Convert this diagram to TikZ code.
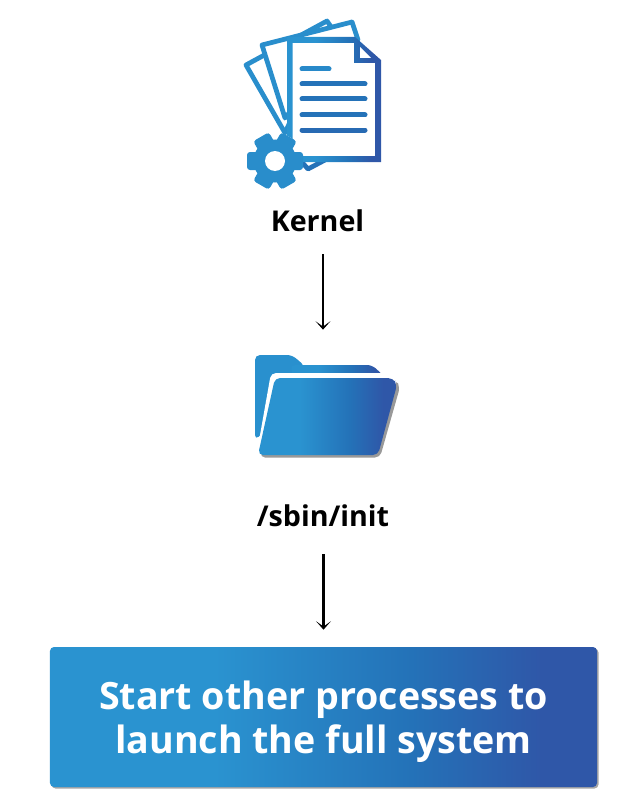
\documentclass[tikz,border=0pt]{standalone}
\usepackage{fontspec}
\usepackage{xcolor}
\usetikzlibrary{positioning, arrows.meta, shadows}
\setmainfont{Open Sans}

\definecolor{band_light}{HTML}{2A93D0}
\definecolor{band_mid}{HTML}{2472B8}
\definecolor{band_dark}{HTML}{2F57A8}
\pgfdeclarehorizontalshading{blue_band}{100bp}{
    color(0bp)=(band_light); color(40bp)=(band_light);
    color(58bp)=(band_mid); color(70bp)=(band_dark); color(100bp)=(band_dark)}

\begin{document}
\begin{tikzpicture}[
                x=0.2mm, y=-0.2mm,
                flow_arrow/.style={-{Stealth[length=1.7mm, width=3mm, inset=1.1mm]}, line width=0.45mm, black},
                icon_label/.style={font=\fontsize{16.3}{19}\selectfont\bfseries, text=black, inner sep=0pt},
                launch_box/.style={rectangle, rounded corners=0.8mm, shading=blue_band,
                    minimum width=109.4mm, minimum height=28mm, inner sep=0pt,
                    drop shadow={shadow xshift=0.3mm, shadow yshift=-0.3mm, fill=black!35, opacity=1}},
                launch_text/.style={text=white, align=center, inner sep=0pt,
                    font=\fontsize{21.4}{25}\selectfont\bfseries},
                page_line/.style={line width=0.95mm, line join=round, draw=band_light!85!band_mid, fill=white},
                text_line/.style={line width=1mm, line cap=round}
            ]
                \useasboundingbox (0,0) rectangle (627,805);

                % Back pages of the document stack
                \draw[page_line] (285,133) -- (246,65) -- (327,21) -- (340,40) -- (300,100) -- cycle;
                \draw[page_line] (285,118) -- (262,45) -- (352,22) -- (358,40) -- (300,100) -- cycle;
                \draw[page_line, draw=band_mid] (300,160) -- (308,169) -- (325,160);

                % Front page
                \fill[white] (288,38) -- (355,38) -- (380,61) -- (380,160) -- (288,160) -- cycle;
                \shade[shading=blue_band, even odd rule]
                    (287,37) -- (355,37) -- (381,60) -- (381,162) -- (287,162) -- cycle
                    (292.5,43) -- (354,43) -- (354,63) -- (375,63) -- (375,156) -- (292.5,156) -- cycle;
                \fill[white] (360,47) -- (371,58) -- (360,58) -- cycle;
                \draw[text_line, band_light!70!band_mid] (302,69) -- (329,69);
                \draw[text_line, band_mid] (302,84) -- (365,84);
                \draw[text_line, band_mid] (302,99) -- (365,99);
                \draw[text_line, band_mid] (302,115) -- (365,115);
                \draw[text_line, band_mid!70!band_dark] (302,130) -- (365,130);

                % Gear
                \fill[white] (275,161) circle (5.6mm);
                \foreach \a in {30,90,...,330} {
                    \fill[band_light!80!band_mid, rotate around={\a:(275,161)}, rounded corners=0.6mm]
                        (266,133) rectangle (284,161);
                }
                \fill[band_light!80!band_mid] (275,161) circle (4.3mm);
                \fill[white] (275,161) circle (2mm);

                \node[icon_label] (kernel) at (317.5,221) {Kernel};

                % Folder
                \fill[band_light!90!band_mid, rounded corners=1mm] (255,440) -- (255,355) -- (292,355) -- (305,366) -- (300,400) -- cycle;
                \shade[shading=blue_band, rounded corners=1mm] (290,365) -- (372,365) -- (384,376) -- (300,400) -- cycle;
                \fill[black!40, rounded corners=1mm] (277,380) -- (396,380) -- (400,387) -- (380,457.5) -- (260,457.5) -- cycle;
                \fill[white, rounded corners=1mm] (271,373) -- (395,373) -- (398,382) -- (380,400) -- (257,452) -- cycle;
                \shade[shading=blue_band, rounded corners=1mm]
                    (275,378) -- (393,378) -- (397,385) -- (378,455) -- (258,455) -- cycle;
                \node[minimum width=30mm, minimum height=30mm, inner sep=0pt] (folder) at (323,405) {};

                \node[icon_label] (sbin) at (323,516) {/sbin/init};

                \node[launch_box] (launch) at (323.5,717) {};
                \node[launch_text, yshift=-1mm] (launch_label) at (launch) {Start other processes to\\launch the full system};

                \draw[flow_arrow, shorten <=4.4mm] (kernel.south -| folder.north) -- (folder.north);
                \draw[flow_arrow, shorten <=5.4mm, shorten >=3.4mm] (sbin.south -| launch.north) -- (launch.north);
            \end{tikzpicture}
\end{document}
